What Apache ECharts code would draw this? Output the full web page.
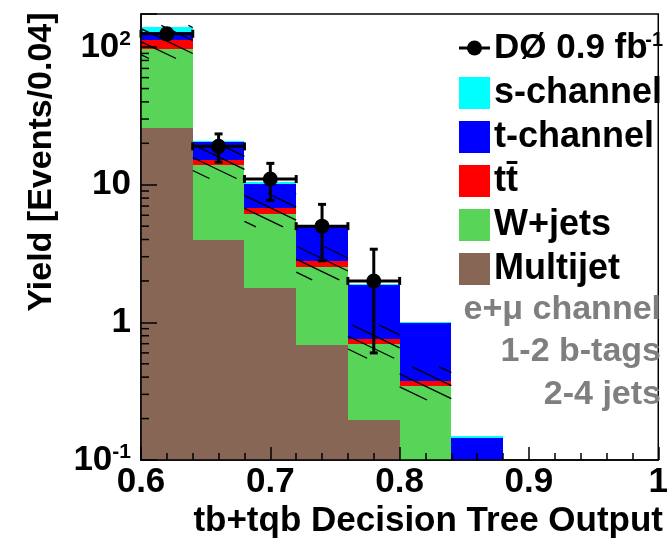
<!DOCTYPE html>
<html>
<head>
<meta charset="utf-8">
<script src="https://cdn.jsdelivr.net/npm/echarts@6/dist/echarts.min.js"></script>
<style>
  html, body { margin: 0; padding: 0; background: #fff; }
  #chart { width: 671px; height: 539px; }
</style>
</head>
<body>
<div id="chart"></div>
<script>
// Bin edges of the decision-tree output histogram (bin width 0.04)
const binEdges = [0.60, 0.64, 0.68, 0.72, 0.76, 0.80, 0.84, 0.88];

// Predicted yields per bin, stacked bottom to top
const multijet = [25.7, 4.0, 1.77, 0.68, 0.195, 0, 0];
const wjets    = [71.0, 9.9, 4.4, 1.86, 0.50, 0.346, 0];
const ttbar    = [16.5, 1.3, 0.6, 0.25, 0.057, 0.028, 0];
const tchannel = [16.0, 5.1, 3.4, 2.14, 1.11, 0.62, 0.145];
const schannel = [9.8, 0.5, 0.35, 0.07, 0.05, 0.01, 0.004];

// Relative uncertainty on the background sum (hatched band)
const bkgRelUnc = [0.27, 0.27, 0.27, 0.27, 0.27, 0.27, 0];

// Observed events and their errors
const dataCounts = [125, 19, 11, 5, 2];
const dataErr    = [11.2, 4.4, 3.3, 2.2, 1.4];

// Tick labels
const xTickLabels = ['0.6', '0.7', '0.8', '0.9', '1'];
const yTickValues = [0.1, 1, 10, 100];
const yTickMantissa = ['10', '1', '10', '10'];
const yTickExponent = ['-1', '', '', '2'];
const yMinorTicks = [0.2, 0.3, 0.4, 0.5, 0.6, 0.7, 0.8, 0.9,
                     2, 3, 4, 5, 6, 7, 8, 9,
                     20, 30, 40, 50, 60, 70, 80, 90];

const X_MIN = 0.6, X_MAX = 1.0;
const Y_MIN = 0.1, Y_MAX = 174;
const FONT = '"Liberation Sans", Arial, Helvetica, sans-serif';

const components = [
  { name: 'Multijet',  values: multijet, color: '#876656' },
  { name: 'W+jets',    values: wjets,    color: '#58d458' },
  { name: 't\u0074\u0304', values: ttbar, color: '#ff0000' },
  { name: 't-channel', values: tchannel, color: '#0000ff' },
  { name: 's-channel', values: schannel, color: '#00ffff' }
];

// Stacked histogram: one custom series per component
const cumulative = new Array(binEdges.length - 1).fill(0);
const stackSeries = components.map(c => {
  const data = [];
  c.values.forEach((v, i) => {
    const lo = cumulative[i];
    const hi = lo + v;
    cumulative[i] = hi;
    if (v > 0) data.push([binEdges[i], binEdges[i + 1], Math.max(lo, Y_MIN), hi]);
  });
  return {
    type: 'custom',
    name: c.name,
    clip: true,
    z: 2,
    itemStyle: { color: c.color },
    encode: { x: [0, 1], y: [2, 3] },
    data: data,
    renderItem: (params, api) => {
      const tl = api.coord([api.value(0), api.value(3)]);
      const br = api.coord([api.value(1), api.value(2)]);
      const x = Math.round(tl[0]), y = Math.round(tl[1]);
      return {
        type: 'rect',
        shape: { x: x, y: y, width: Math.round(br[0]) - x, height: Math.round(br[1]) - y },
        style: { fill: c.color }
      };
    }
  };
});

// Background uncertainty band
const bandData = [];
for (let i = 0; i < binEdges.length - 1; i++) {
  const bkg = multijet[i] + wjets[i] + ttbar[i];
  if (bkg > 0 && bkgRelUnc[i] > 0) {
    bandData.push([binEdges[i], binEdges[i + 1], bkg * (1 - bkgRelUnc[i]), bkg * (1 + bkgRelUnc[i])]);
  }
}
const HATCH_SLOPE = 0.48, HATCH_STEP = 13;
const bandSeries = {
  type: 'custom',
  name: 'uncertainty',
  clip: true,
  z: 3,
  silent: true,
  encode: { x: [0, 1], y: [2, 3] },
  data: bandData,
  renderItem: (params, api) => {
    const tl = api.coord([api.value(0), api.value(3)]);
    const br = api.coord([api.value(1), api.value(2)]);
    const x0 = tl[0], x1 = br[0], y0 = tl[1], y1 = br[1];
    const s = HATCH_SLOPE, d = HATCH_STEP;
    const children = [];
    const cMin = y0 - s * x1, cMax = y1 - s * x0;
    for (let k = Math.ceil(cMin / d); k * d <= cMax; k++) {
      const c = k * d;
      const xa = Math.max(x0, (y0 - c) / s);
      const xb = Math.min(x1, (y1 - c) / s);
      if (xb - xa > 0.5) {
        children.push({
          type: 'line',
          shape: { x1: xa, y1: s * xa + c, x2: xb, y2: s * xb + c },
          style: { stroke: '#000', lineWidth: 1.3 }
        });
      }
    }
    return { type: 'group', children: children };
  }
};

// Data points with error bars
const dataItems = dataCounts.map((n, i) => [binEdges[i], binEdges[i + 1], n, dataErr[i]]);
const dataSeries = {
  type: 'custom',
  name: 'D\u00d8 0.9 fb-1',
  clip: false,
  z: 6,
  encode: { x: [0, 1], y: 2 },
  data: dataItems,
  renderItem: (params, api) => {
    const lo = api.value(0), hi = api.value(1), n = api.value(2), e = api.value(3);
    const xc = (lo + hi) / 2;
    const pL = api.coord([lo, n]), pR = api.coord([hi, n]);
    const pT = api.coord([xc, n + e]), pB = api.coord([xc, Math.max(n - e, Y_MIN)]);
    const lw = 3, cap = 4;
    const ls = { stroke: '#000', lineWidth: lw };
    return {
      type: 'group',
      children: [
        { type: 'line', shape: { x1: pL[0], y1: pL[1], x2: pR[0], y2: pR[1] }, style: ls },
        { type: 'line', shape: { x1: pL[0], y1: pL[1] - cap, x2: pL[0], y2: pL[1] + cap }, style: ls },
        { type: 'line', shape: { x1: pR[0], y1: pR[1] - cap, x2: pR[0], y2: pR[1] + cap }, style: ls },
        { type: 'line', shape: { x1: pT[0], y1: pT[1], x2: pB[0], y2: pB[1] }, style: ls },
        { type: 'line', shape: { x1: pT[0] - cap, y1: pT[1], x2: pT[0] + cap, y2: pT[1] }, style: ls },
        { type: 'line', shape: { x1: pB[0] - cap, y1: pB[1], x2: pB[0] + cap, y2: pB[1] }, style: ls },
        { type: 'circle', shape: { cx: (pL[0] + pR[0]) / 2, cy: pL[1], r: 7.5 }, style: { fill: '#000' } }
      ]
    };
  }
};

// Minor ticks of the logarithmic y axis (2..9 per decade)
const minorTickSeries = {
  type: 'custom',
  name: 'yMinor',
  clip: true,
  z: 8,
  silent: true,
  encode: { x: 0, y: 1 },
  data: yMinorTicks.filter(v => v > Y_MIN && v < Y_MAX).map(v => [X_MIN, v]),
  renderItem: (params, api) => {
    const p = api.coord([api.value(0), api.value(1)]);
    return {
      type: 'line',
      shape: { x1: p[0], y1: p[1], x2: p[0] + 8, y2: p[1] },
      style: { stroke: '#000', lineWidth: 1.5 }
    };
  }
};

// Legend (drawn as graphics)
const LEG_X = 459, LEG_TEXT_X = 494, LEG_SIZE = 31;
const legendRowsY = [93, 137, 181, 225, 269];
const legendGraphics = [];
legendGraphics.push(
  { type: 'line', shape: { x1: LEG_X, y1: 48, x2: LEG_X + LEG_SIZE, y2: 48 }, style: { stroke: '#000', lineWidth: 3 } },
  { type: 'circle', shape: { cx: LEG_X + LEG_SIZE / 2, cy: 48, r: 7.5 }, style: { fill: '#000' } },
  { type: 'text', x: LEG_TEXT_X, y: 48, style: { text: 'D\u00d8 0.9 fb', font: 'bold 35px ' + FONT, fill: '#000', verticalAlign: 'middle', align: 'left' } },
  { type: 'text', x: 663, y: 40, style: { text: '-1', font: 'bold 20px ' + FONT, fill: '#000', verticalAlign: 'middle', align: 'right' } }
);
components.slice().reverse().forEach((c, i) => {
  const cy = legendRowsY[i];
  legendGraphics.push(
    { type: 'rect', shape: { x: LEG_X, y: cy - 16, width: LEG_SIZE, height: 32 }, style: { fill: c.color } },
    { type: 'text', x: LEG_TEXT_X, y: cy, style: { text: c.name, font: 'bold 36px ' + FONT, fill: '#000', verticalAlign: 'middle', align: 'left' } }
  );
});

// Selection annotations
const notes = ['e+\u03bc channel', '1-2 b-tags', '2-4 jets'];
const notesY = [310, 352, 395];
const noteGraphics = notes.map((t, i) => ({
  type: 'text', x: 661, y: notesY[i],
  style: { text: t, font: 'bold 34px ' + FONT, fill: '#7f7f7f', align: 'right', verticalAlign: 'middle' }
}));

// Axis titles
const titleGraphics = [
  { type: 'text', x: 663, y: 521, style: { text: 'tb+tqb Decision Tree Output', font: 'bold 35px ' + FONT, fill: '#000', align: 'right', verticalAlign: 'middle' } },
  { type: 'text', x: 42, y: 162, rotation: Math.PI / 2, style: { text: 'Yield [Events/0.04]', font: 'bold 34px ' + FONT, fill: '#000', align: 'center', verticalAlign: 'middle' } }
];

const chart = echarts.init(document.getElementById('chart'), null, { renderer: 'canvas' });
chart.setOption({
  backgroundColor: '#fff',
  animation: false,
  grid: { left: 141, right: 7, top: 14, bottom: 79, show: true, borderColor: '#000', borderWidth: 1.5, backgroundColor: 'transparent' },
  xAxis: {
    type: 'value', min: X_MIN, max: X_MAX, interval: 0.1, z: 10,
    axisLine: { show: true, lineStyle: { color: '#000', width: 1.5 } },
    axisTick: { show: true, inside: true, length: 13, lineStyle: { color: '#000', width: 1.5 } },
    minorTick: { show: true, splitNumber: 5, length: 7, lineStyle: { color: '#000', width: 1.5 } },
    splitLine: { show: false },
    axisLabel: {
      show: true, margin: 5, color: '#000', fontFamily: FONT, fontWeight: 'bold', fontSize: 35,
      showMinLabel: true, showMaxLabel: true,
      formatter: (v) => {
        const idx = Math.round((v - X_MIN) / 0.1);
        return xTickLabels[idx] !== undefined ? xTickLabels[idx] : '';
      }
    }
  },
  yAxis: {
    type: 'log', logBase: 10, min: Y_MIN, max: Y_MAX, z: 10,
    axisLine: { show: true, lineStyle: { color: '#000', width: 1.5 } },
    axisTick: { show: true, inside: true, length: 16, lineStyle: { color: '#000', width: 1.5 } },
    splitLine: { show: false },
    axisLabel: {
      show: true, margin: 10, color: '#000',
      formatter: (v) => {
        const idx = yTickValues.findIndex(t => Math.abs(Math.log10(v) - Math.log10(t)) < 1e-6);
        if (idx < 0) return '';
        return '{m|' + yTickMantissa[idx] + '}' + (yTickExponent[idx] ? '{e|' + yTickExponent[idx] + '}' : '');
      },
      rich: {
        m: { fontFamily: FONT, fontWeight: 'bold', fontSize: 35, color: '#000', lineHeight: 36 },
        e: { fontFamily: FONT, fontWeight: 'bold', fontSize: 21, color: '#000', verticalAlign: 'top', lineHeight: 36, padding: [0, 0, 0, 0] }
      }
    }
  },
  graphic: [].concat(legendGraphics, noteGraphics, titleGraphics),
  series: [].concat(stackSeries, [bandSeries, minorTickSeries, dataSeries])
});
</script>
</body>
</html>
